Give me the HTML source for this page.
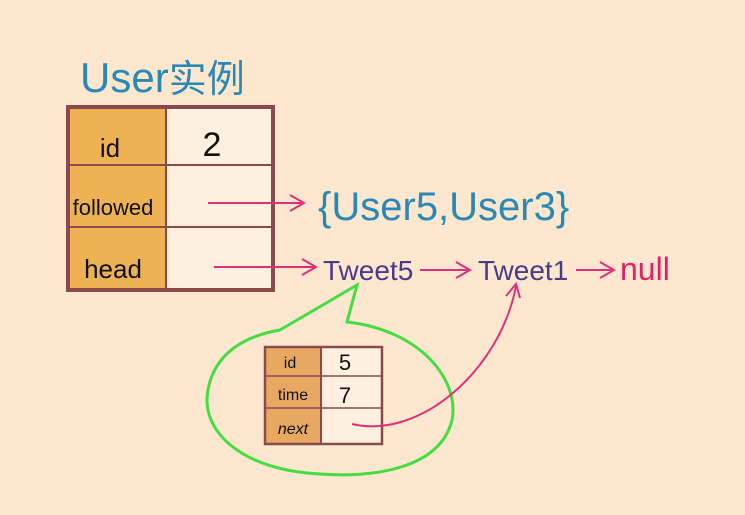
<html><body style="margin:0;background:#fde8cf;width:745px;height:515px;overflow:hidden;font-family:'Liberation Sans','Noto Sans CJK SC',sans-serif">
<svg width="745" height="515" xmlns="http://www.w3.org/2000/svg">
<rect width="745" height="515" fill="#fde8cf"/>
<text x="80" y="92" font-size="42" fill="#2a88b4" font-family="Liberation Sans,Noto Sans CJK SC,sans-serif">User<tspan font-size="38">实例</tspan></text>
<rect x="68" y="107" width="98" height="183" fill="#eeb255"/>
<rect x="166" y="107" width="107" height="183" fill="#fdf0e0"/>
<rect x="68" y="107" width="205" height="183" fill="none" stroke="#8a4a4a" stroke-width="4"/>
<line x1="68" y1="165" x2="273" y2="165" stroke="#8a4a4a" stroke-width="2"/>
<line x1="68" y1="227" x2="273" y2="227" stroke="#8a4a4a" stroke-width="2"/>
<line x1="166" y1="107" x2="166" y2="290" stroke="#8a4a4a" stroke-width="2"/>
<g font-size="26" fill="#111" text-anchor="middle">
<text x="110" y="157">id</text>
<text x="113" y="215" font-size="22">followed</text>
<text x="113" y="278">head</text>
<text x="212" y="156" font-size="34">2</text>
</g>
<g stroke="#e0307a" stroke-width="2" fill="none">
<line x1="208" y1="203" x2="302" y2="203"/><polyline points="290,195 304,203 290,211"/>
<line x1="214" y1="267" x2="314" y2="267"/><polyline points="302,259 316,267 302,275"/>
<line x1="420" y1="270" x2="468" y2="270"/><polyline points="456,262 470,270 456,278"/>
<line x1="576" y1="270" x2="612" y2="270"/><polyline points="600,262 614,270 600,278"/>
</g>
<text x="318" y="220" font-size="40" fill="#2a88b4">{User5,User3}</text>
<text x="323" y="280" font-size="28" fill="#4a3a8a">Tweet5</text>
<text x="478" y="280" font-size="28" fill="#4a3a8a">Tweet1</text>
<text x="620" y="280" font-size="32" fill="#e0206a">null</text>
<path d="M357,285 L347,322 C420,330 460,380 452,420 C440,470 370,478 320,474 C240,470 200,430 208,390 C215,350 250,335 280,330 Z" fill="none" stroke="#44dd44" stroke-width="3"/>
<rect x="265" y="347" width="56" height="97" fill="#e8a862"/>
<rect x="321" y="347" width="61" height="97" fill="#fdf0e0"/>
<rect x="265" y="347" width="117" height="97" fill="none" stroke="#8a4a4a" stroke-width="2.5"/>
<line x1="265" y1="376" x2="382" y2="376" stroke="#8a4a4a" stroke-width="1.5"/>
<line x1="265" y1="408" x2="382" y2="408" stroke="#8a4a4a" stroke-width="1.5"/>
<line x1="321" y1="347" x2="321" y2="444" stroke="#8a4a4a" stroke-width="2"/>
<g font-size="16" fill="#111" text-anchor="middle">
<text x="290" y="368">id</text><text x="293" y="400">time</text><text x="293" y="434" font-style="italic">next</text>
<text x="345" y="370" font-size="22">5</text><text x="345" y="403" font-size="22">7</text>
</g>
<g stroke="#e0307a" stroke-width="2" fill="none">
<path d="M352,424 C420,440 500,370 516,286"/><polyline points="506,296 516,284 520,298"/>
</g>
</svg>
</body></html>
